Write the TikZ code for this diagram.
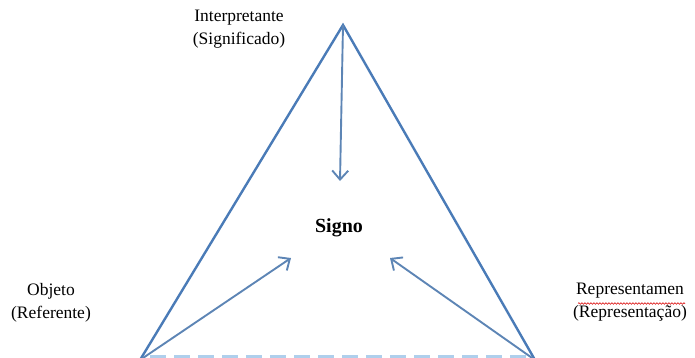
\documentclass[tikz,border=0pt]{standalone}
\usepackage{fontspec}
\setmainfont{Liberation Serif}
\usetikzlibrary{arrows.meta,decorations.pathmorphing}
\definecolor{edgeblue}{HTML}{4A7BB7}
\definecolor{arrowblue}{HTML}{5D85B5}
\definecolor{dashblue}{HTML}{AFCFEC}
\tikzset{
  side/.style={draw=edgeblue, line width=2.4pt},
  baseline/.style={draw=dashblue, line width=3pt, dash pattern=on 16pt off 8pt},
  pointer/.style={draw=arrowblue, line width=1.9pt, -{Straight Barb[length=9pt,width=16pt,line width=1.9pt]}},
  label/.style={align=center, font=\fontsize{17.5}{22.5}\selectfont, inner sep=0pt},
}
\begin{document}
\begin{tikzpicture}[x=1pt,y=-1pt]
\useasboundingbox (0,0) rectangle (695,358);
\coordinate (I) at (343,25);
\coordinate (O) at (140,360);
\coordinate (R) at (535,360);
\coordinate (bl) at (150,356.5);
\coordinate (br) at (530,356.5);
\coordinate (tI) at (340,181);
\coordinate (tO) at (291,258);
\coordinate (tR) at (390,258);
\draw[baseline] (bl) -- (br);
\draw[side] (O) -- (I) -- (R);
\draw[pointer] (I) -- (tI);
\draw[pointer] (O) -- (tO);
\draw[pointer] (R) -- (tR);
\node[label] (interp) at (239,29) {Interpretante\\(Significado)};
\node[label] (objeto) at (51,303) {Objeto\\(Referente)};
\node[label] (repr) at (630,302) {Representamen\\(Representação)};
\node[inner sep=0pt, font=\fontsize{20}{24}\selectfont\bfseries] (signo) at (339,228) {Signo};
\draw[red!85!black, line width=0.6pt, decorate, decoration={snake, amplitude=0.8pt, segment length=3pt}] (578,303.5) -- (685,303.5);
\end{tikzpicture}
\end{document}
